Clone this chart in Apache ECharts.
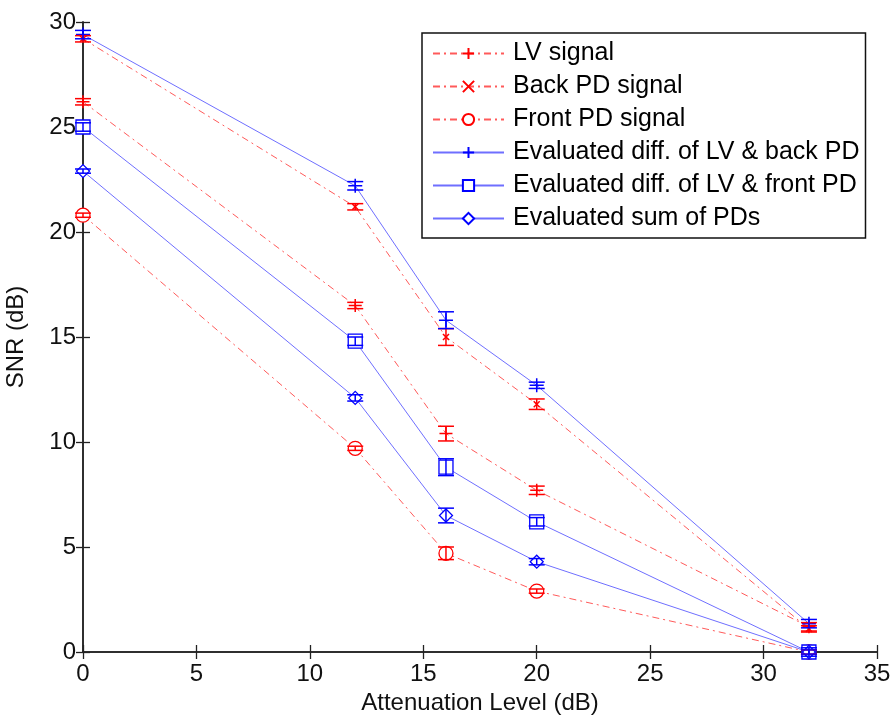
<!DOCTYPE html>
<html><head><meta charset="utf-8">
<script src="https://cdn.jsdelivr.net/npm/echarts@6/dist/echarts.min.js"></script>
<style>html,body{margin:0;padding:0;background:#fff}#c{width:894px;height:718px}</style>
</head><body><div id="c"></div>
<script>
const attenuation = [0, 12, 16, 20, 32];
const lvSignal = [26.2, 16.5, 10.4, 7.7, 1.2];
const backPD = [29.2, 21.2, 15.0, 11.8, 1.1];
const frontPD = [20.8, 9.7, 4.7, 2.9, 0.0];
const diffBack = [29.4, 22.2, 15.8, 12.7, 1.35];
const diffFront = [25.0, 14.8, 8.8, 6.2, 0.0];
const sumPD = [22.9, 12.1, 6.5, 4.3, 0.0];
const lvErr = [0.15, 0.15, 0.35, 0.2, 0.2];
const backErr = [0.15, 0.15, 0.4, 0.25, 0.15];
const frontErr = [0.1, 0.1, 0.3, 0.1, 0.1];
const diffBackErr = [0.2, 0.2, 0.4, 0.15, 0.2];
const diffFrontErr = [0.2, 0.2, 0.4, 0.2, 0.2];
const sumErr = [0.1, 0.15, 0.35, 0.15, 0.1];
const names = ['LV signal','Back PD signal','Front PD signal','Evaluated diff. of LV & back PD','Evaluated diff. of LV & front PD','Evaluated sum of PDs'];

const RED = '#ff0000', BLUE = '#0000ff';
const redLine = {color: '#ff5a5a', width: 1, type: [7, 4, 2, 4]};
const blueLine = {color: '#6f6fff', width: 1, type: 'solid'};
const plusPath = 'path://M0,5L10,5M5,0L5,10';
const xPath = 'path://M0,0L10,10M10,0L0,10';

function lineSeries(name, vals, color, line, symbol, size, strokeOnly) {
  return {
    name, type: 'line', data: attenuation.map((x, i) => [x, vals[i]]),
    symbol, symbolSize: size, showAllSymbol: true,
    lineStyle: line,
    itemStyle: strokeOnly ? {color: 'rgba(0,0,0,0)', borderColor: color, borderWidth: 1.5}
                          : {color: '#fff', borderColor: color, borderWidth: 1.3},
    emphasis: {disabled: true}, z: 3
  };
}
function errSeries(vals, errs, color) {
  return {
    type: 'custom', silent: true, z: 4,
    data: attenuation.map((x, i) => [x, vals[i] - errs[i], vals[i] + errs[i]]),
    renderItem: (params, api) => {
      const lo = api.coord([api.value(0), api.value(1)]);
      const hi = api.coord([api.value(0), api.value(2)]);
      const w = 8;
      const st = {stroke: color, lineWidth: 1.5};
      return {type: 'group', children: [
        {type: 'line', shape: {x1: lo[0], y1: lo[1], x2: hi[0], y2: hi[1]}, style: st},
        {type: 'line', shape: {x1: lo[0]-w, y1: lo[1], x2: lo[0]+w, y2: lo[1]}, style: st},
        {type: 'line', shape: {x1: hi[0]-w, y1: hi[1], x2: hi[0]+w, y2: hi[1]}, style: st}
      ]};
    }
  };
}

const axisFont = {color: '#111', fontFamily: 'Liberation Sans, Arial, sans-serif', fontSize: 24};
const axisLine = {show: true, lineStyle: {color: '#222', width: 1.5}};
const axisTick = {inside: true, length: 7, lineStyle: {color: '#222', width: 1.3}};

const chart = echarts.init(document.getElementById('c'));
chart.setOption({
  animation: false,
  backgroundColor: '#fff',
  grid: {left: 83, right: 17, top: 22, bottom: 66, outerBoundsMode: 'none', containLabel: false},
  legend: {
    data: names, orient: 'vertical', left: 422, top: 33,
    itemWidth: 71, itemHeight: 14, itemGap: 8,
    padding: [8, 6, 7, 10],
    backgroundColor: '#fff', borderColor: '#111', borderWidth: 1.5,
    textStyle: {color: '#000', fontFamily: 'Liberation Sans, Arial, sans-serif', fontSize: 25, lineHeight: 25, padding: [0, 0, 0, 4]},
    selectedMode: false
  },
  xAxis: [
    {type: 'value', min: 0, max: 35, interval: 5, name: 'Attenuation Level (dB)', nameLocation: 'middle', nameGap: 38,
     nameTextStyle: axisFont, axisLabel: Object.assign({margin: 10}, axisFont),
     axisLine, axisTick, splitLine: {show: false}},
    {type: 'value', position: 'top', min: 0, max: 35, interval: 5, axisLabel: {show: false},
     axisLine, axisTick, splitLine: {show: false}}
  ],
  yAxis: [
    {type: 'value', min: 0, max: 30, interval: 5, name: 'SNR (dB)', nameLocation: 'middle', nameGap: 55,
     nameTextStyle: axisFont, axisLabel: Object.assign({margin: 7}, axisFont),
     axisLine, axisTick, splitLine: {show: false}},
    {type: 'value', position: 'right', min: 0, max: 30, interval: 5, axisLabel: {show: false},
     axisLine, axisTick, splitLine: {show: false}}
  ],
  series: [
    lineSeries(names[0], lvSignal, RED, redLine, plusPath, 13, true),
    lineSeries(names[1], backPD, RED, redLine, xPath, 6, true),
    lineSeries(names[2], frontPD, RED, redLine, 'circle', 14, false),
    lineSeries(names[3], diffBack, BLUE, blueLine, plusPath, 14, true),
    lineSeries(names[4], diffFront, BLUE, blueLine, 'rect', 14, false),
    lineSeries(names[5], sumPD, BLUE, blueLine, 'diamond', 13, false),
    errSeries(lvSignal, lvErr, RED),
    errSeries(backPD, backErr, RED),
    errSeries(frontPD, frontErr, RED),
    errSeries(diffBack, diffBackErr, BLUE),
    errSeries(diffFront, diffFrontErr, BLUE),
    errSeries(sumPD, sumErr, BLUE)
  ]
});
</script></body></html>
